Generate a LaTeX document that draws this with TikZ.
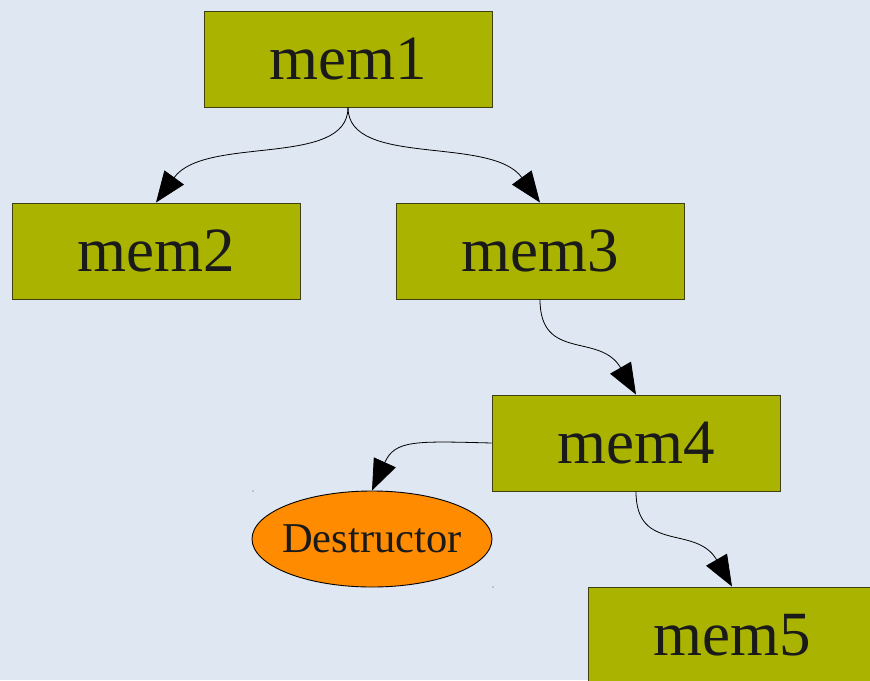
\documentclass[tikz,border=0pt]{standalone}
\usepackage{fontspec}
\setmainfont{Liberation Serif}
\usetikzlibrary{arrows.meta,shapes.geometric}
\definecolor{bgc}{HTML}{DFE7F2}
\definecolor{olivebox}{HTML}{A9B300}
\definecolor{boxline}{HTML}{3F3F10}
\definecolor{orangefill}{HTML}{FF8C00}
\definecolor{txt}{HTML}{1A1A1A}
\begin{document}
\begin{tikzpicture}[x=1pt,y=-1pt,
  membox/.style={draw=boxline,fill=olivebox,line width=0.9pt,minimum width=288pt,minimum height=96pt,inner sep=0pt,text=txt,font=\fontsize{63}{63}\selectfont},
  destr/.style={ellipse,draw=black,fill=orangefill,line width=0.9pt,minimum width=240pt,minimum height=96pt,inner xsep=-5pt,inner ysep=0pt,text=txt,font=\fontsize{42.5}{42.5}\selectfont},
  arr/.style={draw=black,line width=0.8pt,-{Triangle[length=31pt,width=24pt]}}]
\fill[bgc] (0,0) rectangle (870,680);
\useasboundingbox (0,0) rectangle (870,680);
\node[membox] (m1) at (348,59) {mem1};
\node[membox] (m2) at (156,251) {mem2};
\node[membox] (m3) at (540,251) {mem3};
\node[membox] (m4) at (636,443) {mem4};
\node[membox] (m5) at (732,635) {mem5};
\node[destr] (d) at (372,539) {Destructor};
\fill[black!70] (253,491) circle (0.6pt);
\fill[black!70] (493,587) circle (0.6pt);
\path[arr] (m1.south) .. controls (348,168) and (205,135) .. (m2.north);
\path[arr] (m1.south) .. controls (348,168) and (491,135) .. (m3.north);
\path[arr] (m3.south) .. controls (540,362) and (600,332) .. (m4.north);
\path[arr] (m4.west) .. controls (415,441) and (395,440) .. (d.north);
\path[arr] (m4.south) .. controls (636,554) and (696,524) .. (m5.north);
\end{tikzpicture}
\end{document}
